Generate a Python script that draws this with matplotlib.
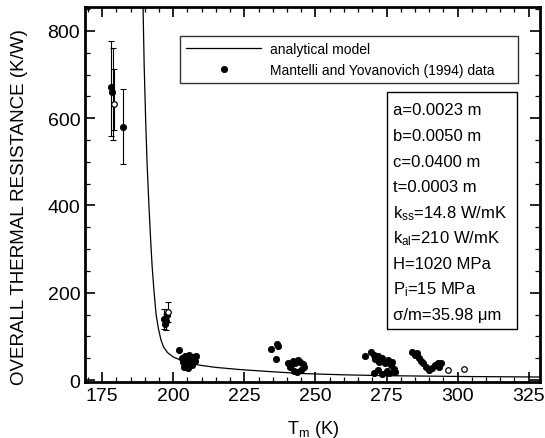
import matplotlib
matplotlib.use("Agg")
import matplotlib.pyplot as plt
from matplotlib.patches import Rectangle
from matplotlib.ticker import MultipleLocator

plt.rcParams['font.family'] = ['Liberation Sans', 'DejaVu Sans']
plt.rcParams['mathtext.fontset'] = 'custom'
plt.rcParams['mathtext.rm'] = 'Liberation Sans'
plt.rcParams['mathtext.it'] = 'Liberation Sans:italic'
plt.rcParams['mathtext.sf'] = 'Liberation Sans'

# analytical model curve
model_T = [189.4, 189.8, 190.3, 190.8, 191.4, 192.0, 192.6, 193.3, 194.0, 194.8,
           195.7, 196.6, 198.0, 200.0, 202.5, 205.0, 209.4, 215.0, 223.6, 235.0,
           245.0, 260.0, 275.0, 290.0, 305.0, 329.0]
model_R = [855, 720, 600, 500, 410, 330, 260, 200, 150, 118,
           92, 76, 63, 53, 46, 40, 34, 29, 24, 19,
           15, 12, 10, 9, 8, 7]

# data with error bars
err_T = [178.3, 178.8, 179.3, 182.3, 196.6, 197.3, 198.3]
err_R = [672, 650, 633, 580, 140, 132, 155]
err_lo = [112, 100, 60, 85, 22, 18, 22]
err_hi = [106, 110, 80, 88, 22, 20, 24]

# filled data points
fill_T = [178.3, 178.6, 182.3, 196.6, 197.0, 197.3, 197.8,
          202.0, 203.0, 203.5, 204.0, 204.5, 205.0, 205.5, 206.0, 206.5, 207.0,
          207.5, 208.0, 203.8, 205.2,
          234.5, 236.5, 237.0, 236.2, 240.5, 241.5, 242.0, 243.0, 244.0, 244.5,
          245.5, 242.5, 243.5, 244.8, 246.0, 241.0,
          267.5, 269.5, 270.5, 271.0, 272.0, 272.5, 273.5, 274.5, 275.5, 276.5,
          277.0, 270.5, 272.0, 273.5, 275.0, 276.0, 277.5, 278.0,
          284.0, 285.0, 285.8, 286.5, 287.2, 288.0, 289.0, 290.0, 291.0, 292.0,
          293.0, 294.0, 293.5]
fill_R = [672, 660, 580, 140, 128, 135, 148,
          70, 50, 42, 55, 38, 48, 58, 45, 35, 52,
          44, 55, 30, 28,
          72, 82, 78, 48, 40, 35, 44, 38, 46, 42,
          36, 20, 18, 24, 30, 30,
          54, 65, 58, 48, 55, 42, 50, 38, 46, 35,
          42, 17, 22, 14, 20, 16, 25, 18,
          64, 58, 62, 50, 44, 38, 30, 22, 28, 34,
          38, 40, 30]

# open data points
open_T = [179.3, 198.3, 296.5, 302.3]
open_R = [633, 155, 22, 25]

params = ["a=0.0023 m", "b=0.0050 m", "c=0.0400 m", "t=0.0003 m",
          "k$_{\\rm ss}$=14.8 W/mK", "k$_{\\rm al}$=210 W/mK", "H=1020 MPa",
          "P$_{\\rm i}$=15 MPa", "σ/m=35.98 μm"]

fig = plt.figure(figsize=(5.45, 4.39), dpi=100)
ax = fig.add_axes([0.156, 0.128, 0.835, 0.854])

ax.plot(model_T, model_R, color='black', lw=0.9, label='analytical model')
ax.errorbar(err_T, err_R, yerr=[err_lo, err_hi], fmt='none', ecolor='black',
            elinewidth=0.8, capsize=2, capthick=0.8)
ax.plot(fill_T, fill_R, 'o', color='black', ms=4.5, mec='black', mew=0.6,
        label='Mantelli and Yovanovich (1994) data')
ax.plot(open_T, open_R, 'o', mfc='white', mec='black', ms=4, mew=0.9)

ax.set_xlim(169, 329)
ax.set_ylim(-4, 855)
ax.xaxis.set_major_locator(MultipleLocator(25))
ax.xaxis.set_minor_locator(MultipleLocator(5))
ax.yaxis.set_major_locator(MultipleLocator(200))
ax.yaxis.set_minor_locator(MultipleLocator(50))
ax.tick_params(which='both', direction='in', top=True, right=True)
ax.tick_params(which='major', length=7, width=1.2, labelsize=14)
ax.tick_params(which='minor', length=3.5, width=0.9)
for s in ax.spines.values():
    s.set_linewidth(2.0)

ax.set_xlabel("T$_{\\rm m}$ (K)", fontsize=13, labelpad=10)
ax.set_ylabel("OVERALL THERMAL RESISTANCE (K/W)", fontsize=13.5)
ax.yaxis.set_label_coords(-0.125, 0.47)

leg = ax.legend(loc='upper left', bbox_to_anchor=(0.209, 0.789, 0.743, 0.134),
                mode='expand', fontsize=10, handlelength=5.4, handletextpad=0.6,
                frameon=True, fancybox=False, edgecolor='black',
                borderaxespad=0, borderpad=0.45, labelspacing=0.5)
leg.get_frame().set_linewidth(1.0)

ax.add_patch(Rectangle((0.664, 0.141), 0.285, 0.632, transform=ax.transAxes,
                       fill=False, edgecolor='black', lw=1.0))
for i, p in enumerate(params):
    y = (383 - (111 + i * 25.6)) / 375
    ax.text(0.676, y, p, transform=ax.transAxes, fontsize=12, va='center',
            ha='left')

fig.savefig("out.png", dpi=100)
